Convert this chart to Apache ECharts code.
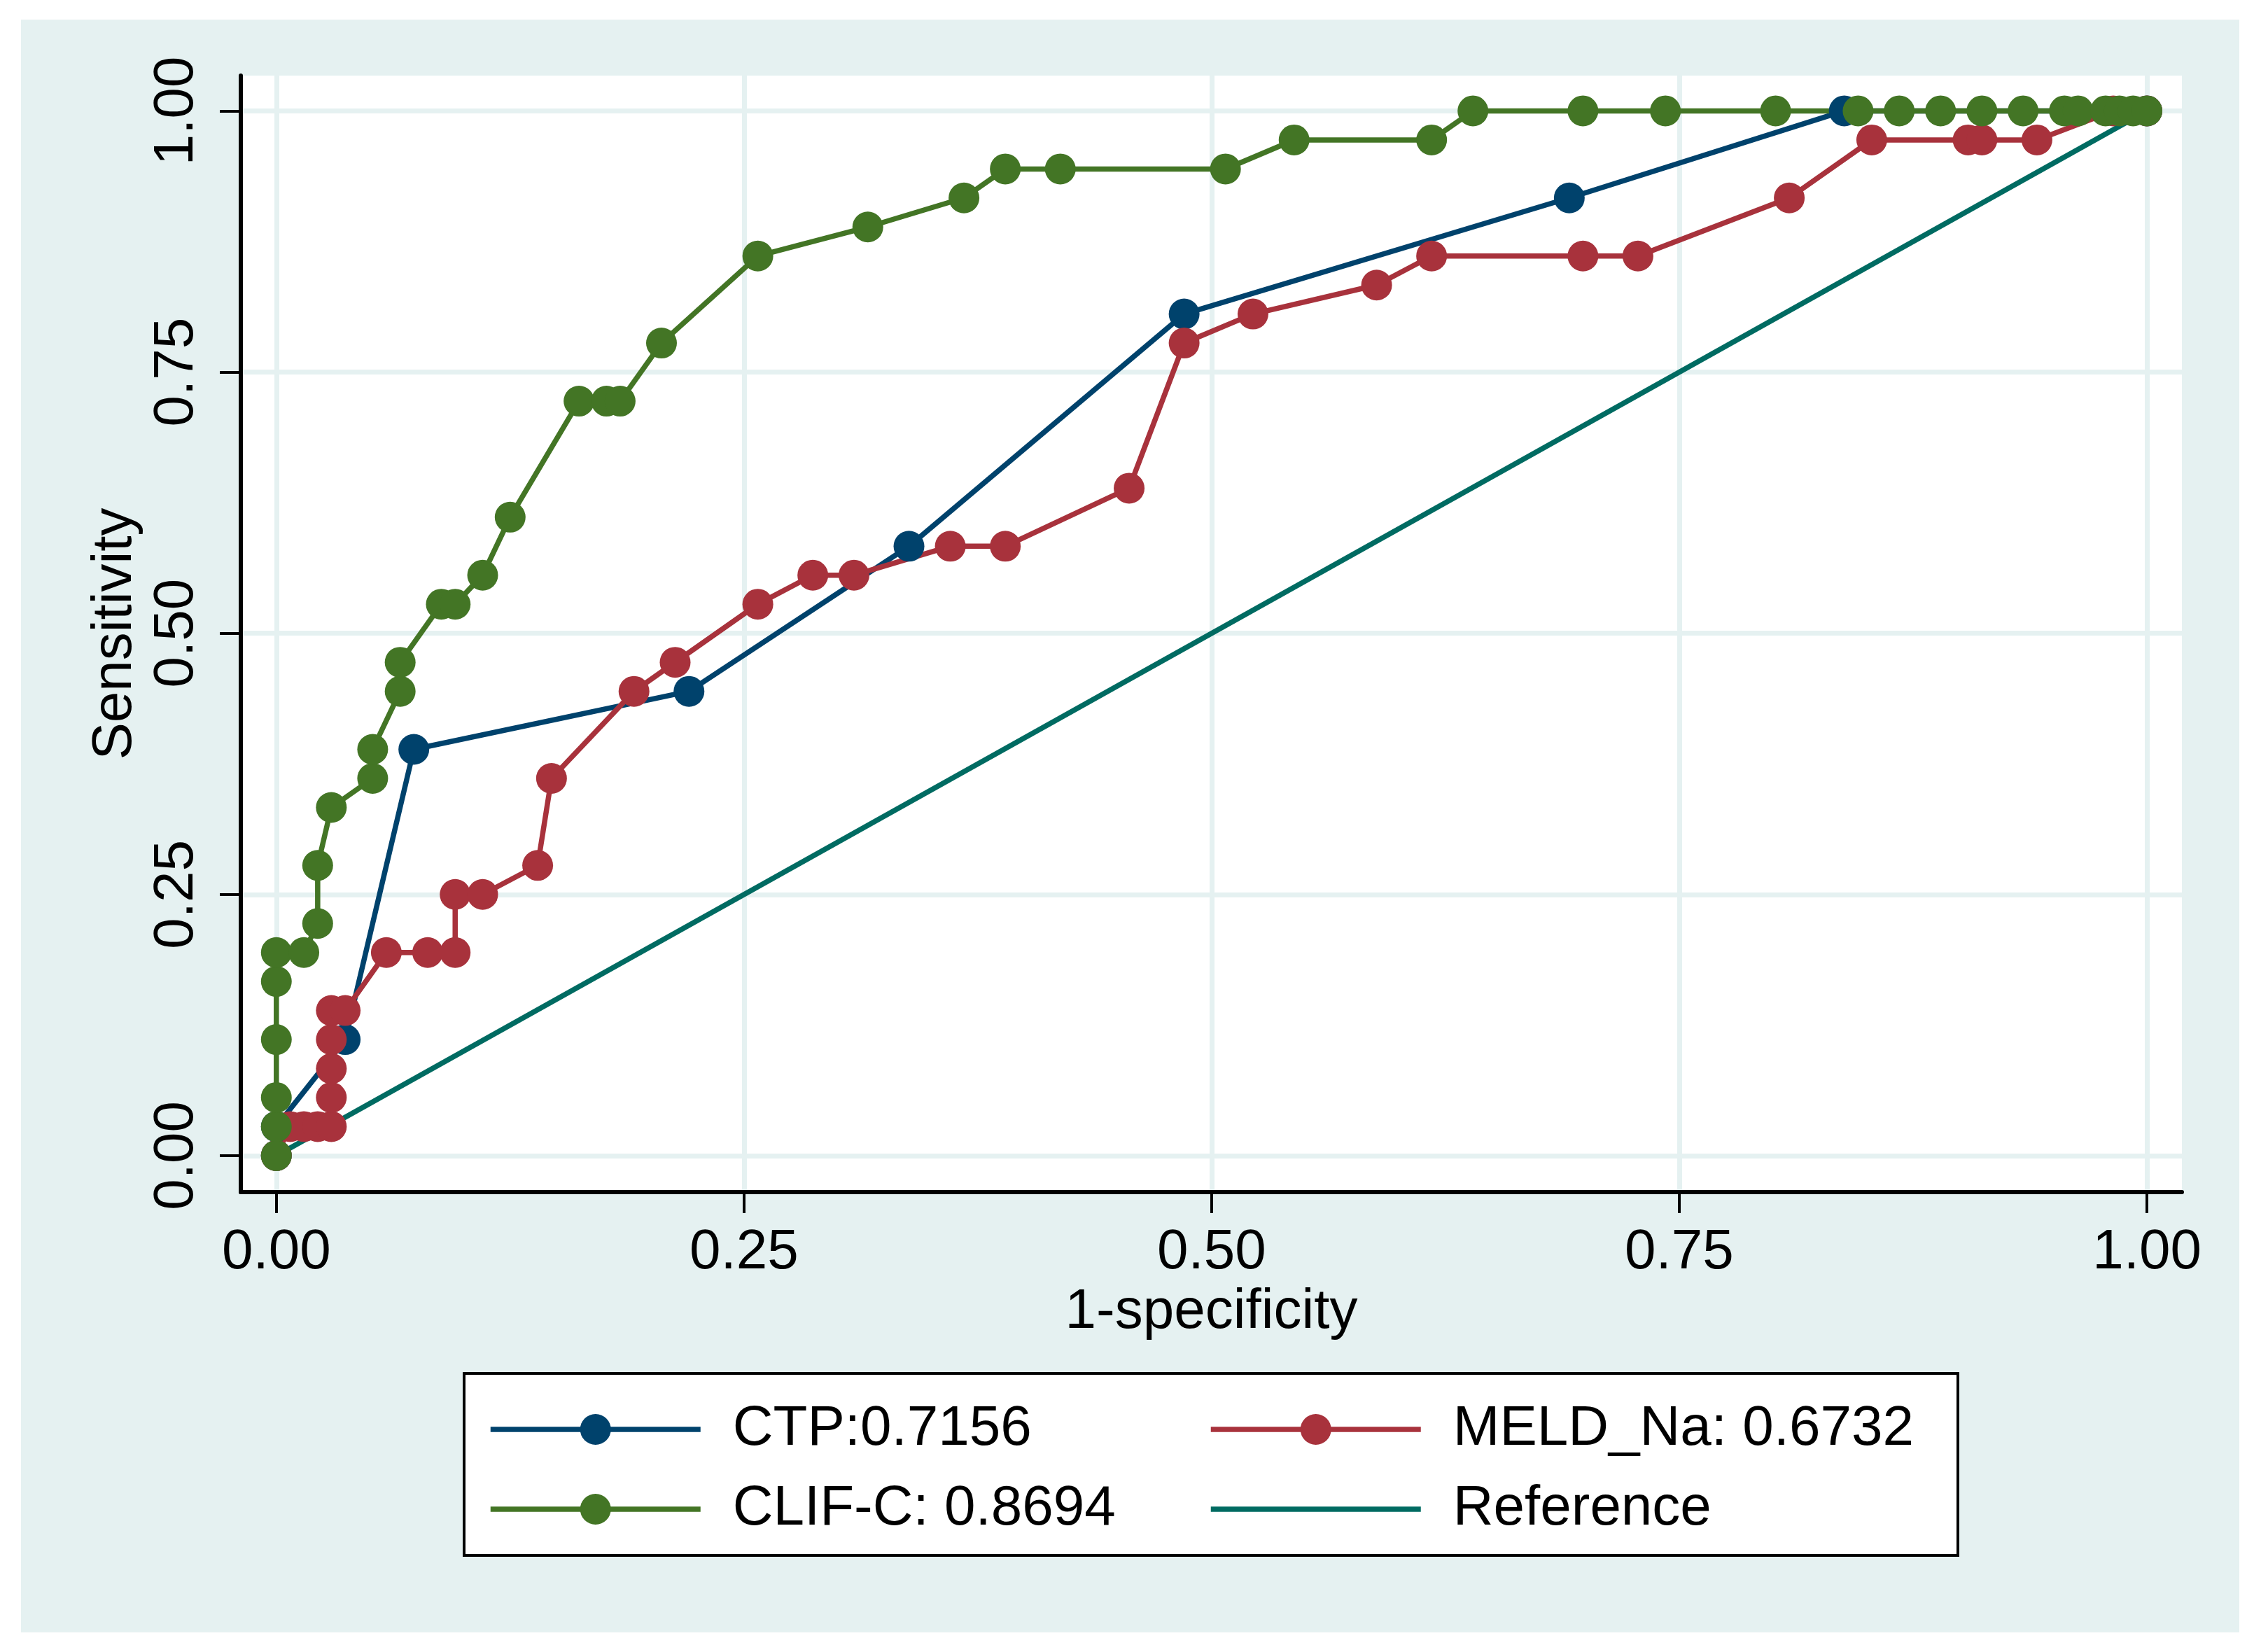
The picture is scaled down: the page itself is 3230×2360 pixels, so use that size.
<!DOCTYPE html>
<html><head><meta charset="utf-8">
<script src="https://cdn.jsdelivr.net/npm/echarts@6/dist/echarts.min.js"></script>
<style>
html,body{margin:0;padding:0;background:#fff;}
#bg{position:absolute;left:30px;top:28px;width:3169px;height:2304px;background:#E5F1F1;}
#chart{position:absolute;left:0;top:0;width:3230px;height:2360px;}
</style></head><body>
<div id="bg"></div><div id="chart"></div>
<script>
const tickValues = [0, 0.25, 0.5, 0.75, 1];

const ctpX = [0, 0, 0.0368, 0.0735, 0.2206, 0.3382, 0.4853, 0.6912, 0.8382, 1];
const ctpY = [0, 0.0278, 0.1111, 0.3889, 0.4444, 0.5833, 0.8056, 0.9167, 1, 1];

const meldX = [0, 0.0074, 0.0147, 0.0221, 0.0294, 0.0294, 0.0294, 0.0294, 0.0294, 0.0368, 0.0588, 0.0809, 0.0956, 0.0956, 0.1103, 0.1397, 0.1471, 0.1912, 0.2132, 0.2574, 0.2868, 0.3088, 0.3603, 0.3897, 0.4559, 0.4853, 0.5221, 0.5882, 0.6176, 0.6985, 0.7279, 0.8088, 0.8529, 0.9044, 0.9118, 0.9412, 0.982, 1];
const meldY = [0, 0.0278, 0.0278, 0.0278, 0.0278, 0.0556, 0.0833, 0.1111, 0.1389, 0.1389, 0.1944, 0.1944, 0.1944, 0.25, 0.25, 0.2778, 0.3611, 0.4444, 0.4722, 0.5278, 0.5556, 0.5556, 0.5833, 0.5833, 0.6389, 0.7778, 0.8056, 0.8333, 0.8611, 0.8611, 0.8611, 0.9167, 0.9722, 0.9722, 0.9722, 0.9722, 1, 1];

const clifX = [0, 0, 0, 0, 0, 0, 0.0147, 0.0221, 0.0221, 0.0294, 0.0515, 0.0515, 0.0662, 0.0662, 0.0882, 0.0956, 0.1103, 0.125, 0.1618, 0.1765, 0.1838, 0.2059, 0.2574, 0.3162, 0.3676, 0.3897, 0.4191, 0.5074, 0.5441, 0.6176, 0.6397, 0.6985, 0.7426, 0.8015, 0.8456, 0.8676, 0.8897, 0.9118, 0.9338, 0.9559, 0.9632, 0.9779, 0.9853, 0.9926, 1];
const clifY = [0, 0.0278, 0.0556, 0.1111, 0.1667, 0.1944, 0.1944, 0.2222, 0.2778, 0.3333, 0.3611, 0.3889, 0.4444, 0.4722, 0.5278, 0.5278, 0.5556, 0.6111, 0.7222, 0.7222, 0.7222, 0.7778, 0.8611, 0.8889, 0.9167, 0.9444, 0.9444, 0.9444, 0.9722, 0.9722, 1, 1, 1, 1, 1, 1, 1, 1, 1, 1, 1, 1, 1, 1, 1];

const refX = [0, 1];
const refY = [0, 1];

const names = ['CTP:0.7156', 'MELD_Na: 0.6732', 'CLIF-C: 0.8694', 'Reference'];

const C_CTP = '#00426C', C_MELD = '#A8323C', C_CLIF = '#437525', C_REF = '#006B62';
const GRIDC = '#E5F1F1';
const FONT = '"Liberation Sans", Arial, Helvetica, sans-serif';
const FS = 80;

function pairs(xs, ys) { return xs.map((x, i) => [x, ys[i]]); }

function lineSeries(name, xs, ys, color, withSymbol) {
  return {
    name: name, type: 'line', data: pairs(xs, ys),
    symbol: withSymbol ? 'circle' : 'none', symbolSize: 44,
    showSymbol: withSymbol, showAllSymbol: true,
    lineStyle: { width: 7.5, color: color },
    itemStyle: { color: color, borderWidth: 0 },
    emphasis: { disabled: true }, silent: true, clip: false, animation: false
  };
}

const chart = echarts.init(document.getElementById('chart'), null, { renderer: 'canvas' });

const legendCommon = {
  orient: 'vertical', padding: 0, itemWidth: 300, itemHeight: 55, itemGap: 34,
  selectedMode: false,
  lineStyle: { width: 7.5 },
  textStyle: { fontFamily: FONT, fontSize: FS, color: '#000', padding: [0, 0, 0, 41] }
};

chart.setOption({
  animation: false,
  backgroundColor: 'transparent',
  textStyle: { fontFamily: FONT },
  graphic: [{
    type: 'rect', z: 1,
    shape: { x: 663, y: 1962, width: 2134, height: 260 },
    style: { fill: '#fff', stroke: '#000', lineWidth: 4 }
  }],
  grid: {
    left: 344, right: 113, top: 108, bottom: 657,
    show: true, backgroundColor: '#fff', borderWidth: 0
  },
  legend: [
    Object.assign({}, legendCommon, { left: 697, top: 2002, data: [names[0], names[2]] }),
    Object.assign({}, legendCommon, { left: 1726, top: 2002, data: [names[1], { name: names[3], itemStyle: { opacity: 0 } }] })
  ],
  xAxis: {
    type: 'value', min: -0.019, max: 1.0187,
    name: '1-specificity', nameLocation: 'middle', nameGap: 125,
    nameTextStyle: { fontFamily: FONT, fontSize: FS, color: '#000' },
    axisLine: { show: true, onZero: false, lineStyle: { color: '#000', width: 6 } },
    axisTick: { show: true, inside: false, length: 30, lineStyle: { color: '#000', width: 4 }, customValues: tickValues },
    axisLabel: { show: true, margin: 47, fontFamily: FONT, fontSize: FS, color: '#000', customValues: tickValues,
      formatter: v => Number(v).toFixed(2) },
    splitLine: { show: true, lineStyle: { color: GRIDC, width: 7 } }
  },
  yAxis: {
    type: 'value', min: -0.0349, max: 1.0338,
    name: 'Sensitivity', nameLocation: 'middle', nameGap: 139, nameRotate: 90,
    nameTextStyle: { fontFamily: FONT, fontSize: FS, color: '#000' },
    axisLine: { show: true, onZero: false, lineStyle: { color: '#000', width: 6 } },
    axisTick: { show: true, inside: false, length: 30, lineStyle: { color: '#000', width: 4 }, customValues: tickValues },
    axisLabel: { show: true, rotate: 90, margin: 51, fontFamily: FONT, fontSize: FS, color: '#000', customValues: tickValues,
      formatter: v => Number(v).toFixed(2) },
    splitLine: { show: true, lineStyle: { color: GRIDC, width: 7 } }
  },
  series: [
    lineSeries(names[0], ctpX, ctpY, C_CTP, true),
    lineSeries(names[1], meldX, meldY, C_MELD, true),
    lineSeries(names[2], clifX, clifY, C_CLIF, true),
    lineSeries(names[3], refX, refY, C_REF, false)
  ]
});
</script>
</body></html>
